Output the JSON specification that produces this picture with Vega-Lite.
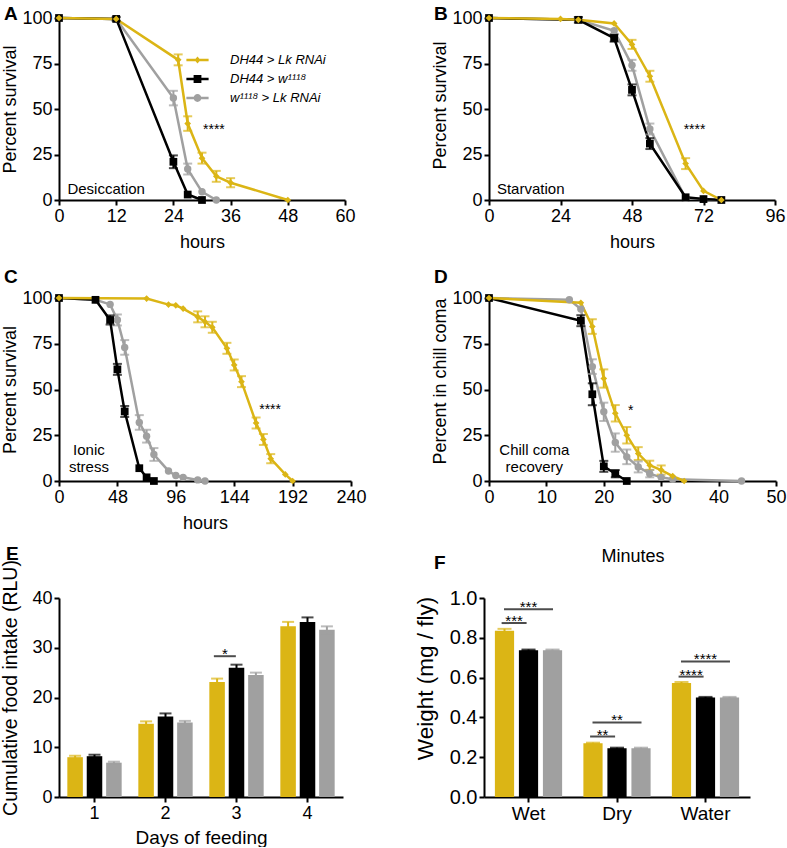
{
"$schema": "https://vega.github.io/schema/vega-lite/v6.json",
"padding": {"left": 0, "top": 5, "right": 0, "bottom": 0},
"config": {
  "font": "Liberation Sans",
  "view": {"stroke": null},
  "axis": {"grid": false, "domainColor": "#000", "domainWidth": 2, "tickColor": "#000", "tickWidth": 2, "tickSize": 5, "labelColor": "#000", "labelFontSize": 18, "labelPadding": 2, "titleColor": "#000", "titleFontSize": 18, "titleFontWeight": "normal", "labelFlush": false, "labelOverlap": false},
  "title": {"fontSize": 19, "fontWeight": "bold", "anchor": "start", "frame": "group", "color": "#000", "baseline": "alphabetic", "offset": 0},
  "text": {"color": "#000"}
},
"datasets": {
  "surv": [
    {"p":"A","g":"G","t":0,"v":100},{"p":"A","g":"G","t":12,"v":99.5},{"p":"A","g":"G","t":24,"v":56,"e":4},{"p":"A","g":"G","t":27,"v":17,"e":3},{"p":"A","g":"G","t":30,"v":4.5},{"p":"A","g":"G","t":33,"v":0},
    {"p":"A","g":"K","t":0,"v":100},{"p":"A","g":"K","t":12,"v":99.5,"e":1},{"p":"A","g":"K","t":24,"v":21,"e":3.5},{"p":"A","g":"K","t":27,"v":3},{"p":"A","g":"K","t":30,"v":0},
    {"p":"A","g":"Y","t":0,"v":100},{"p":"A","g":"Y","t":12,"v":99.5},{"p":"A","g":"Y","t":25,"v":77,"e":3},{"p":"A","g":"Y","t":27,"v":42,"e":4},{"p":"A","g":"Y","t":30,"v":23,"e":3},{"p":"A","g":"Y","t":33,"v":13,"e":3},{"p":"A","g":"Y","t":36,"v":9.5,"e":2.5},{"p":"A","g":"Y","t":48,"v":0},
    {"p":"B","g":"G","t":0,"v":100},{"p":"B","g":"G","t":30,"v":99},{"p":"B","g":"G","t":42,"v":93},{"p":"B","g":"G","t":48,"v":74,"e":3},{"p":"B","g":"G","t":54,"v":39,"e":3},{"p":"B","g":"G","t":66,"v":1},{"p":"B","g":"G","t":72,"v":0.5},{"p":"B","g":"G","t":78,"v":0},
    {"p":"B","g":"K","t":0,"v":100},{"p":"B","g":"K","t":30,"v":99,"e":1.5},{"p":"B","g":"K","t":42,"v":89,"e":2},{"p":"B","g":"K","t":48,"v":60.5,"e":3},{"p":"B","g":"K","t":54,"v":31,"e":3},{"p":"B","g":"K","t":66,"v":1.5},{"p":"B","g":"K","t":72,"v":0.5},{"p":"B","g":"K","t":78,"v":0},
    {"p":"B","g":"Y","t":0,"v":100},{"p":"B","g":"Y","t":24,"v":99.5},{"p":"B","g":"Y","t":30,"v":99},{"p":"B","g":"Y","t":42,"v":97},{"p":"B","g":"Y","t":48,"v":85.5,"e":2.5},{"p":"B","g":"Y","t":54,"v":68,"e":3},{"p":"B","g":"Y","t":66,"v":20,"e":3},{"p":"B","g":"Y","t":72,"v":5},{"p":"B","g":"Y","t":78,"v":0},
    {"p":"C","g":"G","t":0,"v":100},{"p":"C","g":"G","t":30,"v":99},{"p":"C","g":"G","t":42,"v":96.5},{"p":"C","g":"G","t":48,"v":88,"e":3},{"p":"C","g":"G","t":54,"v":73,"e":4},{"p":"C","g":"G","t":66,"v":32,"e":4},{"p":"C","g":"G","t":72,"v":24.5,"e":3.5},{"p":"C","g":"G","t":78,"v":14.5,"e":3.5},{"p":"C","g":"G","t":90,"v":5.5},{"p":"C","g":"G","t":96,"v":3},{"p":"C","g":"G","t":102,"v":2},{"p":"C","g":"G","t":114,"v":0.6},{"p":"C","g":"G","t":120,"v":0},
    {"p":"C","g":"K","t":0,"v":100},{"p":"C","g":"K","t":30,"v":99},{"p":"C","g":"K","t":42,"v":88,"e":2.5},{"p":"C","g":"K","t":48,"v":61,"e":3},{"p":"C","g":"K","t":54,"v":38,"e":3},{"p":"C","g":"K","t":66,"v":7},{"p":"C","g":"K","t":72,"v":2},{"p":"C","g":"K","t":78,"v":0},
    {"p":"C","g":"Y","t":0,"v":100},{"p":"C","g":"Y","t":72,"v":99.7},{"p":"C","g":"Y","t":90,"v":96.4},{"p":"C","g":"Y","t":96,"v":96},{"p":"C","g":"Y","t":102,"v":94.2},{"p":"C","g":"Y","t":114,"v":89.7,"e":3},{"p":"C","g":"Y","t":120,"v":87,"e":3},{"p":"C","g":"Y","t":126,"v":84,"e":3},{"p":"C","g":"Y","t":138,"v":72.5,"e":3},{"p":"C","g":"Y","t":144,"v":63.4,"e":3},{"p":"C","g":"Y","t":150,"v":54.3,"e":3},{"p":"C","g":"Y","t":162,"v":31.7,"e":3},{"p":"C","g":"Y","t":168,"v":22.7,"e":3},{"p":"C","g":"Y","t":174,"v":12.2,"e":2.5},{"p":"C","g":"Y","t":186,"v":3.6},{"p":"C","g":"Y","t":192,"v":0},
    {"p":"D","g":"G","t":0,"v":100},{"p":"D","g":"G","t":14,"v":99},{"p":"D","g":"G","t":16,"v":94},{"p":"D","g":"G","t":18,"v":62.5,"e":4},{"p":"D","g":"G","t":20,"v":37.8,"e":5},{"p":"D","g":"G","t":22,"v":21,"e":5},{"p":"D","g":"G","t":24,"v":13.2,"e":4},{"p":"D","g":"G","t":26,"v":7.7,"e":3},{"p":"D","g":"G","t":28,"v":4,"e":2},{"p":"D","g":"G","t":30,"v":2},{"p":"D","g":"G","t":32,"v":1},{"p":"D","g":"G","t":44,"v":0},
    {"p":"D","g":"K","t":0,"v":100},{"p":"D","g":"K","t":16,"v":87.6,"e":3},{"p":"D","g":"K","t":18,"v":47.4,"e":6},{"p":"D","g":"K","t":20,"v":8,"e":3},{"p":"D","g":"K","t":22,"v":4,"e":2},{"p":"D","g":"K","t":24,"v":0},
    {"p":"D","g":"Y","t":0,"v":100},{"p":"D","g":"Y","t":16,"v":97.4},{"p":"D","g":"Y","t":18,"v":84.4,"e":4},{"p":"D","g":"Y","t":20,"v":56,"e":5},{"p":"D","g":"Y","t":22,"v":37,"e":4.5},{"p":"D","g":"Y","t":24,"v":25,"e":4.5},{"p":"D","g":"Y","t":26,"v":15,"e":3.5},{"p":"D","g":"Y","t":28,"v":8.6,"e":2.5},{"p":"D","g":"Y","t":30,"v":6,"e":2.5},{"p":"D","g":"Y","t":32,"v":2.7},{"p":"D","g":"Y","t":34,"v":0}
  ],
  "notes": [
    {"p":"A","k":"label","t":9.9,"v":3.1,"text":"Desiccation"},
    {"p":"A","k":"sig","t":32.5,"v":36,"text":"****"},
    {"p":"B","k":"label","t":14,"v":3.3,"text":"Starvation"},
    {"p":"B","k":"sig","t":69,"v":36,"text":"****"},
    {"p":"C","k":"label","t":24.6,"v":14.1,"text":"Ionic"},
    {"p":"C","k":"label","t":24.6,"v":4.9,"text":"stress"},
    {"p":"C","k":"sig","t":173.5,"v":36.4,"text":"****"},
    {"p":"D","k":"label","t":7.9,"v":14.1,"text":"Chill coma"},
    {"p":"D","k":"label","t":7.9,"v":4.9,"text":"recovery"},
    {"p":"D","k":"sig","t":24.7,"v":36.2,"text":"*"}
  ],
  "food": [
    {"day":"1","g":"Y","v":8.0,"e":0.3},{"day":"1","g":"K","v":8.2,"e":0.3},{"day":"1","g":"G","v":6.9,"e":0.2},
    {"day":"2","g":"Y","v":14.7,"e":0.5},{"day":"2","g":"K","v":16.2,"e":0.6},{"day":"2","g":"G","v":15.0,"e":0.3},
    {"day":"3","g":"Y","v":23.1,"e":0.7},{"day":"3","g":"K","v":26.0,"e":0.6},{"day":"3","g":"G","v":24.5,"e":0.5},
    {"day":"4","g":"Y","v":34.3,"e":0.9},{"day":"4","g":"K","v":35.2,"e":0.9},{"day":"4","g":"G","v":33.6,"e":0.7}
  ],
  "weight": [
    {"cat":"Wet","g":"Y","v":0.835,"e":0.01},{"cat":"Wet","g":"K","v":0.738,"e":0.003},{"cat":"Wet","g":"G","v":0.738,"e":0.003},
    {"cat":"Dry","g":"Y","v":0.27,"e":0.003},{"cat":"Dry","g":"K","v":0.245,"e":0.003},{"cat":"Dry","g":"G","v":0.245,"e":0.003},
    {"cat":"Water","g":"Y","v":0.573,"e":0.005},{"cat":"Water","g":"K","v":0.5,"e":0.003},{"cat":"Water","g":"G","v":0.5,"e":0.003}
  ],
  "sigE": [{"day":"3","pair":"yb","v":28.3,"text":"*"}],
  "sigF": [
    {"cat":"Wet","pair":"yb","v":0.874,"text":"***"},{"cat":"Wet","pair":"yg","v":0.943,"text":"***"},
    {"cat":"Dry","pair":"yb","v":0.304,"text":"**"},{"cat":"Dry","pair":"yg","v":0.375,"text":"**"},
    {"cat":"Water","pair":"yb","v":0.605,"text":"****"},{"cat":"Water","pair":"yg","v":0.681,"text":"****"}
  ]
},
"columns": 2,
"spacing": {"row": 98, "column": 138},
"bounds": "flush",
"concat": [
   {"width": 286, "height": 182, "title": {"text": "A", "dx": -55, "dy": 19},
    "layer": [
     {"data": {"name": "surv"}, "transform": [{"filter": "datum.p === 'A'"}],
      "encoding": {
        "x": {"field": "t", "type": "quantitative", "scale": {"domain": [0, 60], "nice": false}, "axis": {"values": [0,12,24,36,48,60], "title": "hours", "titlePadding": 8}},
        "y": {"field": "v", "type": "quantitative", "scale": {"domain": [0, 100], "nice": false}, "axis": {"values": [0,25,50,75,100], "title": "Percent survival", "titlePadding": 2.5}},
        "color": {"field": "g", "type": "nominal", "scale": {"domain": ["Y","K","G"], "range": ["#DBB515","#000000","#A0A0A0"]}, "legend": null}
      },
      "layer": [
        {"mark": {"type": "line", "strokeWidth": 2.5}},
        {"transform": [{"filter": "isValid(datum.e)"}], "mark": {"type": "errorbar", "ticks": {"size": 9}, "thickness": 2}, "encoding": {"yError": {"field": "e"}}},
        {"transform": [{"filter": "datum.g === 'G'"}], "mark": {"type": "point", "shape": "circle", "filled": true, "opacity": 1, "size": 55}},
        {"transform": [{"filter": "datum.g === 'K'"}], "mark": {"type": "point", "shape": "square", "filled": true, "opacity": 1, "size": 60}},
        {"transform": [{"filter": "datum.g === 'Y'"}], "mark": {"type": "point", "shape": "diamond", "filled": true, "opacity": 1, "size": 45}}
      ]},
     {"data": {"name": "notes"}, "transform": [{"filter": "datum.p === 'A' && datum.k === 'label'"}],
      "mark": {"type": "text", "baseline": "alphabetic", "align": "center", "fontSize": 15},
      "encoding": {"x": {"field": "t", "type": "quantitative"}, "y": {"field": "v", "type": "quantitative"}, "text": {"field": "text"}}},
     {"data": {"name": "notes"}, "transform": [{"filter": "datum.p === 'A' && datum.k === 'sig'"}],
      "mark": {"type": "text", "baseline": "alphabetic", "align": "center", "fontSize": 14},
      "encoding": {"x": {"field": "t", "type": "quantitative"}, "y": {"field": "v", "type": "quantitative"}, "text": {"field": "text"}}},
     {"data": {"values": []},
      "mark": {"type": "point", "filled": true, "opacity": 1},
      "encoding": {
        "fill": {"field": "g", "type": "nominal", "scale": {"domain": ["DH44 > Lk RNAi", "DH44 > w¹¹¹⁸", "w¹¹¹⁸ > Lk RNAi"], "range": ["#DBB515","#000000","#A0A0A0"]},
          "legend": {"title": null, "orient": "none", "legendX": 132, "legendY": 35.5, "symbolSize": 144, "symbolStrokeWidth": 0, "labelFontSize": 13, "labelFontStyle": "italic", "labelColor": "#000", "labelOffset": 26, "rowPadding": 5, "padding": 0, "symbolOpacity": 1}},
        "shape": {"field": "g", "type": "nominal", "scale": {"domain": ["DH44 > Lk RNAi", "DH44 > w¹¹¹⁸", "w¹¹¹⁸ > Lk RNAi"], "range": [
            "M-1.85,-0.22H1.85V0.22H-1.85ZM0,-0.6L0.5,0L0,0.6L-0.5,0Z",
            "M-1.85,-0.22H1.85V0.22H-1.85ZM-0.65,-0.65H0.65V0.65H-0.65Z",
            "M-1.85,-0.22H1.85V0.22H-1.85ZM0.65,0A0.65,0.65,0,1,1,-0.65,0A0.65,0.65,0,1,1,0.65,0Z"]},
          "legend": {"title": null, "orient": "none", "legendX": 132, "legendY": 35.5, "symbolSize": 144, "symbolStrokeWidth": 0, "labelFontSize": 13, "labelFontStyle": "italic", "labelColor": "#000", "labelOffset": 26, "rowPadding": 5, "padding": 0, "symbolOpacity": 1}}
      }}
    ]},
   {"width": 286, "height": 182, "title": {"text": "B", "dx": -55, "dy": 19},
    "layer": [
     {"data": {"name": "surv"}, "transform": [{"filter": "datum.p === 'B'"}],
      "encoding": {
        "x": {"field": "t", "type": "quantitative", "scale": {"domain": [0, 96], "nice": false}, "axis": {"values": [0,24,48,72,96], "title": "hours", "titlePadding": 8}},
        "y": {"field": "v", "type": "quantitative", "scale": {"domain": [0, 100], "nice": false}, "axis": {"values": [0,25,50,75,100], "title": "Percent survival", "titlePadding": 2.5, "titleY": 87}},
        "color": {"field": "g", "type": "nominal", "scale": {"domain": ["Y","K","G"], "range": ["#DBB515","#000000","#A0A0A0"]}, "legend": null}
      },
      "layer": [
        {"mark": {"type": "line", "strokeWidth": 2.5}},
        {"transform": [{"filter": "isValid(datum.e)"}], "mark": {"type": "errorbar", "ticks": {"size": 9}, "thickness": 2}, "encoding": {"yError": {"field": "e"}}},
        {"transform": [{"filter": "datum.g === 'G'"}], "mark": {"type": "point", "shape": "circle", "filled": true, "opacity": 1, "size": 55}},
        {"transform": [{"filter": "datum.g === 'K'"}], "mark": {"type": "point", "shape": "square", "filled": true, "opacity": 1, "size": 60}},
        {"transform": [{"filter": "datum.g === 'Y'"}], "mark": {"type": "point", "shape": "diamond", "filled": true, "opacity": 1, "size": 45}}
      ]},
     {"data": {"name": "notes"}, "transform": [{"filter": "datum.p === 'B' && datum.k === 'label'"}],
      "mark": {"type": "text", "baseline": "alphabetic", "align": "center", "fontSize": 15},
      "encoding": {"x": {"field": "t", "type": "quantitative"}, "y": {"field": "v", "type": "quantitative"}, "text": {"field": "text"}}},
     {"data": {"name": "notes"}, "transform": [{"filter": "datum.p === 'B' && datum.k === 'sig'"}],
      "mark": {"type": "text", "baseline": "alphabetic", "align": "center", "fontSize": 14},
      "encoding": {"x": {"field": "t", "type": "quantitative"}, "y": {"field": "v", "type": "quantitative"}, "text": {"field": "text"}}}
    ]},
   {"width": 292, "height": 183, "title": {"text": "C", "dx": -55, "dy": 1.5},
    "layer": [
     {"data": {"name": "surv"}, "transform": [{"filter": "datum.p === 'C'"}],
      "encoding": {
        "x": {"field": "t", "type": "quantitative", "scale": {"domain": [0, 240], "nice": false}, "axis": {"values": [0,48,96,144,192,240], "title": "hours", "titlePadding": 8}},
        "y": {"field": "v", "type": "quantitative", "scale": {"domain": [0, 100], "nice": false}, "axis": {"values": [0,25,50,75,100], "title": "Percent survival", "titlePadding": 2.5}},
        "color": {"field": "g", "type": "nominal", "scale": {"domain": ["Y","K","G"], "range": ["#DBB515","#000000","#A0A0A0"]}, "legend": null}
      },
      "layer": [
        {"mark": {"type": "line", "strokeWidth": 2.5}},
        {"transform": [{"filter": "isValid(datum.e)"}], "mark": {"type": "errorbar", "ticks": {"size": 9}, "thickness": 2}, "encoding": {"yError": {"field": "e"}}},
        {"transform": [{"filter": "datum.g === 'G'"}], "mark": {"type": "point", "shape": "circle", "filled": true, "opacity": 1, "size": 55}},
        {"transform": [{"filter": "datum.g === 'K'"}], "mark": {"type": "point", "shape": "square", "filled": true, "opacity": 1, "size": 60}},
        {"transform": [{"filter": "datum.g === 'Y'"}], "mark": {"type": "point", "shape": "diamond", "filled": true, "opacity": 1, "size": 45}}
      ]},
     {"data": {"name": "notes"}, "transform": [{"filter": "datum.p === 'C' && datum.k === 'label'"}],
      "mark": {"type": "text", "baseline": "alphabetic", "align": "center", "fontSize": 15},
      "encoding": {"x": {"field": "t", "type": "quantitative"}, "y": {"field": "v", "type": "quantitative"}, "text": {"field": "text"}}},
     {"data": {"name": "notes"}, "transform": [{"filter": "datum.p === 'C' && datum.k === 'sig'"}],
      "mark": {"type": "text", "baseline": "alphabetic", "align": "center", "fontSize": 14},
      "encoding": {"x": {"field": "t", "type": "quantitative"}, "y": {"field": "v", "type": "quantitative"}, "text": {"field": "text"}}}
    ]},
   {"width": 287, "height": 183, "title": {"text": "D", "dx": -55, "dy": 1.5},
    "layer": [
     {"data": {"name": "surv"}, "transform": [{"filter": "datum.p === 'D'"}],
      "encoding": {
        "x": {"field": "t", "type": "quantitative", "scale": {"domain": [0, 50], "nice": false}, "axis": {"values": [0,10,20,30,40,50], "title": "Minutes", "titlePadding": 41}},
        "y": {"field": "v", "type": "quantitative", "scale": {"domain": [0, 100], "nice": false}, "axis": {"values": [0,25,50,75,100], "title": "Percent in chill coma", "titlePadding": 2.5, "titleY": 83}},
        "color": {"field": "g", "type": "nominal", "scale": {"domain": ["Y","K","G"], "range": ["#DBB515","#000000","#A0A0A0"]}, "legend": null}
      },
      "layer": [
        {"mark": {"type": "line", "strokeWidth": 2.5}},
        {"transform": [{"filter": "isValid(datum.e)"}], "mark": {"type": "errorbar", "ticks": {"size": 9}, "thickness": 2}, "encoding": {"yError": {"field": "e"}}},
        {"transform": [{"filter": "datum.g === 'G'"}], "mark": {"type": "point", "shape": "circle", "filled": true, "opacity": 1, "size": 55}},
        {"transform": [{"filter": "datum.g === 'K'"}], "mark": {"type": "point", "shape": "square", "filled": true, "opacity": 1, "size": 60}},
        {"transform": [{"filter": "datum.g === 'Y'"}], "mark": {"type": "point", "shape": "diamond", "filled": true, "opacity": 1, "size": 45}}
      ]},
     {"data": {"name": "notes"}, "transform": [{"filter": "datum.p === 'D' && datum.k === 'label'"}],
      "mark": {"type": "text", "baseline": "alphabetic", "align": "center", "fontSize": 15},
      "encoding": {"x": {"field": "t", "type": "quantitative"}, "y": {"field": "v", "type": "quantitative"}, "text": {"field": "text"}}},
     {"data": {"name": "notes"}, "transform": [{"filter": "datum.p === 'D' && datum.k === 'sig'"}],
      "mark": {"type": "text", "baseline": "alphabetic", "align": "center", "fontSize": 14},
      "encoding": {"x": {"field": "t", "type": "quantitative"}, "y": {"field": "v", "type": "quantitative"}, "text": {"field": "text"}}}
    ]},
  {"width": 284, "height": 218, "title": {"text": "E", "dx": -53, "dy": 8.5},
   "resolve": {"scale": {"xOffset": "independent"}},
   "layer": [
    {"data": {"name": "food"},
     "encoding": {
       "x": {"field": "day", "type": "nominal", "scale": {"paddingInner": 0.18, "paddingOuter": 0.09}, "axis": {"title": "Days of feeding", "labelAngle": 0, "titlePadding": 6, "titleFontSize": 19}},
       "xOffset": {"field": "g", "type": "nominal", "scale": {"domain": ["Y","K","G"], "paddingInner": 0.2, "paddingOuter": 0.1}},
       "y": {"field": "v", "type": "quantitative", "scale": {"domain": [0, 40], "nice": false, "range": [218, 19]}, "axis": {"values": [0,10,20,30,40], "title": "Cumulative food intake (RLU)", "titleFontSize": 19.5, "titlePadding": 11.5, "titleY": 108.5}},
       "color": {"field": "g", "type": "nominal", "scale": {"domain": ["Y","K","G"], "range": ["#DBB515","#000000","#A0A0A0"]}, "legend": null}
     },
     "layer": [
       {"mark": {"type": "bar", "opacity": 1}},
       {"mark": {"type": "errorbar", "ticks": {"size": 12}, "thickness": 2}, "encoding": {"yError": {"field": "e"}}}
     ]},
    {"data": {"name": "sigE"},
     "encoding": {
       "x": {"field": "day", "type": "nominal"},
       "xOffset": {"field": "pair", "type": "nominal", "scale": {"domain": ["yb","yg","bg"], "paddingInner": 0, "paddingOuter": 1.5}},
       "y": {"field": "v", "type": "quantitative"}
     },
     "layer": [
       {"mark": {"type": "tick", "orient": "horizontal", "size": 22, "thickness": 2, "color": "#000"}},
       {"mark": {"type": "text", "baseline": "alphabetic", "align": "center", "dy": 3, "fontSize": 15}, "encoding": {"text": {"field": "text"}}}
     ]}
   ]},
  {"width": 266, "height": 218, "title": {"text": "F", "dx": -55, "dy": -2.5},
   "resolve": {"scale": {"xOffset": "independent"}},
   "layer": [
    {"data": {"name": "weight"},
     "encoding": {
       "x": {"field": "cat", "type": "nominal", "scale": {"domain": ["Wet","Dry","Water"], "paddingInner": 0.186, "paddingOuter": 0.096, "range": [-5, 261]}, "axis": {"title": null, "labelAngle": 0, "labelFontSize": 19}},
       "xOffset": {"field": "g", "type": "nominal", "scale": {"domain": ["Y","K","G"], "paddingInner": 0.2, "paddingOuter": 0.1}},
       "y": {"field": "v", "type": "quantitative", "scale": {"domain": [0, 1], "nice": false, "range": [218, 19]}, "axis": {"values": [0,0.2,0.4,0.6,0.8,1.0], "format": ".1f", "labelFontSize": 20, "title": "Weight (mg / fly)", "titleFontSize": 22.5, "titlePadding": 12, "titleY": 99, "offset": 5}},
       "color": {"field": "g", "type": "nominal", "scale": {"domain": ["Y","K","G"], "range": ["#DBB515","#000000","#A0A0A0"]}, "legend": null}
     },
     "layer": [
       {"mark": {"type": "bar", "opacity": 1}},
       {"mark": {"type": "errorbar", "ticks": {"size": 14}, "thickness": 2}, "encoding": {"yError": {"field": "e"}}}
     ]},
    {"data": {"name": "sigF"},
     "encoding": {
       "x": {"field": "cat", "type": "nominal"},
       "xOffset": {"field": "pair", "type": "nominal", "scale": {"domain": ["yb","yg","bg"], "paddingInner": 0, "paddingOuter": 1.5}},
       "y": {"field": "v", "type": "quantitative"}
     },
     "layer": [
       {"transform": [{"filter": "datum.pair === 'yb'"}], "mark": {"type": "tick", "orient": "horizontal", "size": 25, "thickness": 2, "color": "#000"}},
       {"transform": [{"filter": "datum.pair === 'yg'"}], "mark": {"type": "tick", "orient": "horizontal", "size": 49, "thickness": 2, "color": "#000"}},
       {"mark": {"type": "text", "baseline": "alphabetic", "align": "center", "dy": 3, "fontSize": 15}, "encoding": {"text": {"field": "text"}}}
     ]}
   ]}
]
}
